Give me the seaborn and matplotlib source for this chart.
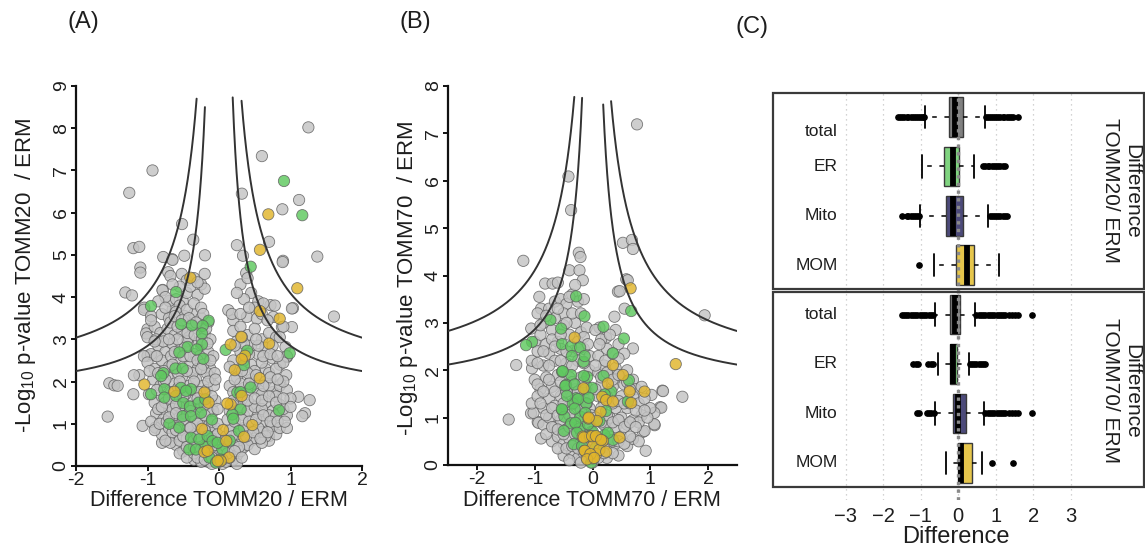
import numpy as np
import pandas as pd
import matplotlib
matplotlib.use("Agg")
import matplotlib.pyplot as plt
from matplotlib.patches import Rectangle
import seaborn as sns

# ---------------- data: panel A (TOMM20 / ERM) ----------------
a_other = [
    (1.25, 8.02), (0.60, 7.34), (-0.93, 7.0), (-1.255, 6.47), (0.32, 6.45), (1.12, 6.30), (0.886, 6.08),
    (-0.517, 5.73), (-0.36, 5.36), (0.25, 5.23), (0.70, 5.31), (-1.198, 5.16), (-1.115, 5.19),
    (-0.485, 4.98), (-0.196, 4.99), (-0.657, 4.90), (-1.10, 4.70), (-1.10, 4.58), (0.336, 4.98),
    (0.895, 4.86), (1.375, 4.96), (0.38, 4.57), (1.035, 3.74), (1.608, 3.54), (0.72, 3.81), (0.94, 2.15),
    (0.86, 1.94), (1.109, 1.64), (1.268, 1.56), (1.203, 1.25), (1.165, 1.18), (0.746, 0.91), (0.70, 0.71),
    (-1.31, 4.11), (-1.217, 4.04), (-0.788, 4.17), (-1.044, 3.75), (-0.648, 3.71), (-0.695, 3.91),
    (-0.508, 3.91), (-1.0, 3.24), (-1.02, 3.14), (-1.0, 2.61), (-0.88, 2.61), (-1.114, 2.15), (-1.19, 2.15),
    (-1.534, 1.96), (-1.464, 1.91), (-1.417, 1.90), (-1.198, 1.70), (-1.557, 1.17), (-1.068, 0.95),
    (-0.89, 0.91), (-0.797, 0.55), (0.89, 4.83), (1.02, 3.73), (0.88, 3.29), (0.93, 2.82), (0.95, 2.58),
    (1.02, 3.29), (-0.78, 4.95), (-0.65, 4.88), (-0.71, 4.59), (-0.79, 4.16),
    (-0.52, 4.55), (-0.45, 4.4), (-0.35, 4.45), (-0.25, 4.30), (-0.2, 4.55), (-0.68, 4.5),
    (-0.75, 4.0), (-0.6, 3.95), (-0.45, 4.1), (-0.3, 4.05), (-0.2, 4.2), (-0.85, 3.9), (-0.55, 3.8),
    (-1.05, 3.7), (-0.95, 3.55), (-0.8, 3.6), (-0.7, 3.5), (-0.6, 3.65), (-0.48, 3.55), (-0.35, 3.6),
    (-0.25, 3.5), (-0.15, 3.4), (-1.0, 3.05), (-0.9, 3.3), (-0.82, 3.15), (-0.72, 3.25), (-0.62, 3.1),
    (-0.52, 3.2), (-0.42, 3.05), (-0.3, 3.25), (-0.2, 3.1), (-0.12, 3.0), (-0.95, 2.65), (-0.85, 2.85),
    (-0.75, 2.7), (-0.65, 2.9), (-0.55, 2.75), (-0.45, 2.95), (-0.35, 2.65), (-0.25, 2.85), (-0.15, 2.7),
    (-1.05, 2.6), (-1.0, 2.45), (-0.9, 2.3), (-0.8, 2.5), (-0.7, 2.35), (-0.6, 2.55), (-0.5, 2.3),
    (-0.4, 2.45), (-0.3, 2.3), (-0.2, 2.5), (-0.12, 2.3), (-0.92, 2.05), (-0.82, 1.9), (-0.72, 2.1),
    (-0.62, 1.95), (-0.52, 2.1), (-0.42, 1.9), (-0.32, 2.05), (-0.22, 1.9), (-0.12, 2.1), (-0.9, 1.5),
    (-0.8, 1.65), (-0.7, 1.45), (-0.6, 1.6), (-0.5, 1.5), (-0.4, 1.65), (-0.3, 1.45), (-0.2, 1.6),
    (-0.1, 1.45), (-0.98, 1.7), (-0.88, 1.25), (-0.78, 1.1), (-0.68, 1.3), (-0.58, 1.15), (-0.48, 1.3),
    (-0.38, 1.05), (-0.28, 1.25), (-0.18, 1.1), (-0.08, 1.3), (-0.95, 1.05), (-0.8, 0.75), (-0.7, 0.9),
    (-0.6, 0.7), (-0.5, 0.85), (-0.4, 0.75), (-0.3, 0.9), (-0.2, 0.7), (-0.1, 0.85), (-0.9, 0.85),
    (-0.6, 0.5), (-0.5, 0.35), (-0.4, 0.55), (-0.3, 0.4), (-0.2, 0.5), (-0.1, 0.35), (-0.68, 0.55),
    (-0.35, 0.15), (-0.25, 0.25), (-0.15, 0.1), (-0.05, 0.2), (-0.1, 0.05), (0.05, 0.05),
    (-0.95, 3.45), (-0.88, 3.0), (-0.78, 2.95), (-0.68, 3.4), (-0.58, 3.3), (-0.48, 2.8), (-0.38, 3.35),
    (-0.28, 2.95), (-0.18, 3.25), (-0.75, 3.75), (-0.45, 3.7), (-0.35, 3.85), (-0.25, 3.75), (-0.55, 4.25),
    (-0.4, 4.25), (-0.3, 4.35), (-0.65, 4.3), (-0.97, 2.25), (-0.87, 2.6), (-0.77, 2.25), (-0.67, 2.6),
    (-0.57, 2.2), (-0.47, 2.6), (-0.37, 2.2), (-0.27, 2.6), (-0.17, 2.2), (-0.08, 2.6), (-0.87, 1.8),
    (-0.77, 2.0), (-0.67, 1.75), (-0.57, 1.85), (-0.47, 1.7), (-0.37, 1.8), (-0.27, 1.75), (-0.17, 1.8),
    (-0.07, 1.9), (-0.85, 1.35), (-0.75, 1.5), (-0.65, 1.35), (-0.55, 1.4), (-0.45, 1.2), (-0.35, 1.35),
    (-0.25, 1.4), (-0.15, 1.3), (-0.05, 1.55), (-0.83, 1.0), (-0.73, 1.05), (-0.63, 0.95), (-0.53, 1.0),
    (-0.43, 0.95), (-0.33, 1.1), (-0.23, 0.95), (-0.13, 1.0), (-0.05, 0.9), (-0.75, 0.6), (-0.65, 0.8),
    (-0.55, 0.6), (-0.45, 0.65), (-0.35, 0.6), (-0.25, 0.55), (-0.15, 0.6), (-0.05, 0.7), (-0.55, 0.3),
    (-0.45, 0.2), (-0.35, 0.3), (-0.25, 0.1), (-0.15, 0.3), (-0.05, 0.4), (0.0, 0.25),
    (-0.62, 3.55), (-0.52, 3.45), (-0.42, 3.5), (-0.32, 3.4), (-0.22, 3.6), (-0.58, 3.0), (-0.44, 3.15),
    (-0.34, 3.1), (-0.24, 3.0), (-0.16, 2.9), (-0.9, 2.95), (-0.7, 3.0), (-0.62, 2.7), (-0.5, 2.6),
    (-0.4, 2.6), (-0.3, 2.5), (-0.22, 2.4), (-0.12, 2.5), (-0.06, 2.2), (-0.85, 2.2), (-0.75, 2.05),
    (-0.65, 2.4), (-0.55, 2.0), (-0.45, 2.25), (-0.35, 2.0), (-0.25, 2.3), (-0.15, 2.0), (-0.05, 2.05),
    (-0.8, 1.4), (-0.7, 1.6), (-0.6, 1.45), (-0.5, 1.65), (-0.4, 1.4), (-0.3, 1.6), (-0.2, 1.45),
    (-0.1, 1.65), (-0.02, 1.35), (-0.7, 1.15), (-0.6, 1.25), (-0.5, 1.1), (-0.4, 1.3), (-0.3, 1.0),
    (-0.2, 1.2), (-0.1, 1.05), (-0.02, 1.0), (-0.6, 0.85), (-0.5, 0.7), (-0.4, 0.9), (-0.3, 0.7),
    (-0.2, 0.85), (-0.1, 0.65), (-0.02, 0.75), (-0.45, 0.45), (-0.35, 0.45), (-0.25, 0.4), (-0.15, 0.45),
    (-0.05, 0.5), (-0.3, 0.2), (-0.2, 0.15), (-0.1, 0.2), (0.0, 0.1),
    (0.3, 4.3), (0.4, 4.45), (0.45, 4.1), (0.35, 3.95), (0.55, 3.9), (0.5, 3.75), (0.25, 4.1), (0.62, 3.85),
    (0.78, 3.8), (0.13, 3.69), (0.2, 3.45), (0.39, 3.53), (0.53, 3.49), (0.76, 3.53), (0.2, 3.2), (0.3, 3.3),
    (0.4, 3.1), (0.5, 3.25), (0.6, 3.0), (0.7, 3.15), (0.8, 3.05), (0.45, 2.85), (0.65, 2.8), (0.9, 3.3),
    (0.2, 2.5), (0.3, 2.7), (0.45, 2.4), (0.55, 2.65), (0.65, 2.3), (0.75, 2.55), (0.85, 2.4), (0.95, 2.6),
    (0.5, 2.25), (0.25, 2.25), (0.15, 1.9), (0.25, 2.1), (0.35, 1.85), (0.45, 2.05), (0.55, 1.8), (0.65, 2.0),
    (0.75, 1.75), (0.85, 1.9), (0.95, 1.8), (1.0, 1.6), (0.15, 1.3), (0.25, 1.5), (0.35, 1.2), (0.45, 1.45),
    (0.55, 1.25), (0.65, 1.5), (0.75, 1.3), (0.85, 1.45), (0.95, 1.2), (0.6, 1.05), (0.1, 0.7), (0.2, 0.9),
    (0.3, 0.6), (0.4, 0.85), (0.5, 0.65), (0.6, 0.8), (0.7, 0.6), (0.8, 0.75), (0.75, 0.95), (0.05, 0.3),
    (0.15, 0.4), (0.25, 0.25), (0.35, 0.45), (0.1, 0.1), (0.2, 0.15), (0.18, 3.6), (0.3, 3.6), (0.42, 3.75),
    (0.6, 3.6), (0.68, 3.45), (0.25, 2.95), (0.35, 2.9), (0.55, 2.85), (0.75, 2.85), (0.85, 3.05),
    (0.15, 2.35), (0.35, 2.5), (0.4, 2.2), (0.6, 2.45), (0.7, 2.2), (0.8, 2.3), (0.9, 2.45), (0.2, 1.75),
    (0.3, 1.95), (0.4, 1.7), (0.5, 1.95), (0.6, 1.7), (0.7, 1.9), (0.8, 1.65), (0.9, 2.0), (0.2, 1.25),
    (0.3, 1.4), (0.4, 1.3), (0.5, 1.4), (0.6, 1.35), (0.7, 1.2), (0.8, 1.2), (0.9, 1.35), (1.0, 1.4),
    (0.15, 0.85), (0.25, 0.75), (0.35, 0.9), (0.45, 0.6), (0.55, 0.9), (0.65, 0.7), (0.85, 0.9), (0.95, 0.9),
    (0.1, 0.45), (0.2, 0.5), (0.3, 0.35), (0.4, 0.5), (0.5, 0.4), (0.6, 0.55), (0.25, 0.05), (0.15, 0.2),
    (0.22, 2.85), (0.32, 3.05), (0.42, 2.65), (0.52, 3.0), (0.62, 2.6), (0.72, 2.65), (0.82, 2.6),
    (0.22, 2.05), (0.32, 2.25), (0.42, 1.95), (0.52, 2.15), (0.62, 1.9), (0.72, 2.1), (0.82, 2.05),
    (0.2, 1.55), (0.3, 1.65), (0.4, 1.55), (0.5, 1.6), (0.6, 1.55), (0.7, 1.65), (0.8, 1.5), (0.9, 1.6),
    (0.12, 1.1), (0.22, 1.05), (0.32, 1.1), (0.42, 1.05), (0.52, 1.1), (0.62, 1.2), (0.72, 1.05),
    (0.82, 1.05), (0.92, 1.05), (0.08, 0.6), (0.18, 0.7), (0.28, 0.45), (0.38, 0.7), (0.48, 0.8),
    (0.58, 0.65), (0.68, 0.8), (0.12, 0.3), (0.22, 0.35), (0.32, 0.2), (0.05, 0.15),
]
a_er = [
    (0.909, 6.75), (1.165, 5.94), (0.443, 4.72), (0.989, 2.67), (0.093, 2.75), (0.395, 2.73), (0.35, 2.39),
    (0.443, 1.86), (0.256, 1.74), (0.303, 1.34), (0.186, 1.22), (0.839, 1.32), (0.28, 0.83), (0.046, 0.40),
    (0.2, 1.12), (0.15, 0.6), (0.30, 1.75), (-0.2, 0.45), (0.02, 0.15),
    (-0.60, 4.12), (-0.951, 3.79), (-0.531, 3.36), (-0.378, 3.33), (-0.145, 3.44), (-0.228, 3.32),
    (-0.238, 3.14), (-0.238, 2.88), (-0.438, 2.82), (-0.312, 2.76), (-0.555, 2.69), (-0.219, 2.54),
    (-0.779, 2.20), (-0.61, 2.31), (-0.508, 2.31), (-0.81, 2.13), (-0.951, 1.70), (-0.765, 1.82),
    (-0.531, 1.85), (-0.392, 1.82), (-0.765, 1.62), (-0.60, 1.66), (-0.46, 1.78), (-0.499, 1.49),
    (-0.406, 1.41), (-0.284, 1.50), (-0.191, 1.58), (-0.695, 1.0), (-0.555, 0.91), (-0.508, 1.18),
    (-0.392, 1.18), (-0.252, 1.26), (-0.098, 1.10), (-0.392, 0.67), (-0.275, 0.63), (-0.159, 0.71),
    (-0.089, 0.59), (-0.019, 0.55), (-0.415, 0.39), (-0.322, 0.39), (-0.135, 0.20), (-0.042, 0.08),
]
a_mom = [
    (0.69, 5.96), (0.573, 5.12), (1.095, 4.21), (0.849, 3.49), (0.573, 3.67), (0.70, 2.90), (0.312, 3.06),
    (0.163, 2.88), (0.364, 2.61), (0.317, 2.53), (0.22, 2.27), (0.569, 2.08), (0.317, 1.66), (0.163, 1.46),
    (0.116, 1.48), (0.466, 0.97), (0.35, 0.69), (0.056, 0.85), (0.102, 0.59), (0.14, 0.20), (0.024, 0.12),
    (-0.401, 4.46), (-1.044, 1.93), (-0.625, 1.76), (-0.205, 1.74), (-0.145, 1.50), (-0.238, 0.88),
    (-0.205, 0.33), (-0.159, 0.36), (-0.019, 0.12),
]

# ---------------- data: panel B (TOMM70 / ERM) ----------------
b_other = [
    (0.77, 7.19), (-0.416, 6.09), (-0.37, 5.38), (0.526, 4.69), (0.682, 4.75), (0.70, 4.56), (-1.197, 4.31),
    (-0.237, 4.48), (-0.208, 4.39), (-0.40, 4.11), (-0.225, 4.11), (-0.168, 3.90), (-0.82, 3.83),
    (-0.69, 3.83), (0.584, 3.92), (0.44, 3.66), (-0.92, 3.55), (1.94, 3.16), (0.555, 3.30), (0.38, 3.13),
    (-1.06, 2.88), (-0.89, 3.30), (0.40, 2.85), (0.70, 2.46), (-1.32, 2.11), (-1.046, 2.04), (1.21, 1.57),
    (1.555, 1.44), (1.02, 1.48), (1.17, 1.22), (-1.064, 1.09), (-0.948, 0.91), (-1.45, 0.96), (1.075, 0.84),
    (0.873, 0.70), (-0.89, 0.56), (0.92, 0.30), (-1.02, 1.10), (-0.935, 0.89), (0.47, 3.67), (0.61, 3.9),
    (1.22, 1.56), (1.19, 1.21), (1.07, 1.10), (0.90, 0.72), (1.07, 0.86), (0.12, 2.90), (0.235, 2.69),
    (-0.95, 3.2), (-0.85, 3.0), (-0.75, 3.3), (-0.65, 3.45), (-0.55, 3.5), (-0.45, 3.4), (-0.35, 3.6),
    (-0.25, 3.45), (-0.15, 3.5), (-0.6, 3.85), (-0.3, 3.8), (-0.5, 3.2), (-1.0, 2.6), (-0.9, 2.75),
    (-0.8, 2.55), (-0.7, 2.85), (-0.6, 2.6), (-0.5, 2.95), (-0.4, 2.75), (-0.3, 3.0), (-0.2, 2.8),
    (-0.1, 2.9), (-0.65, 3.1), (-0.35, 3.2), (-1.05, 2.2), (-0.95, 2.4), (-0.85, 2.1), (-0.75, 2.35),
    (-0.65, 2.2), (-0.55, 2.45), (-0.45, 2.15), (-0.35, 2.4), (-0.25, 2.2), (-0.15, 2.45), (-0.05, 2.3),
    (-1.0, 1.8), (-0.9, 1.6), (-0.8, 1.85), (-0.7, 1.65), (-0.6, 1.9), (-0.5, 1.6), (-0.4, 1.85),
    (-0.3, 1.6), (-0.2, 1.85), (-0.1, 1.65), (-0.05, 2.0), (-1.05, 1.3), (-0.95, 1.45), (-0.85, 1.2),
    (-0.75, 1.4), (-0.65, 1.25), (-0.55, 1.45), (-0.45, 1.2), (-0.35, 1.45), (-0.25, 1.25), (-0.15, 1.4),
    (-0.05, 1.2), (-0.85, 0.85), (-0.75, 1.0), (-0.65, 0.8), (-0.55, 0.95), (-0.45, 0.75), (-0.35, 0.95),
    (-0.25, 0.8), (-0.15, 0.95), (-0.05, 0.8), (-0.7, 0.5), (-0.6, 0.6), (-0.5, 0.45), (-0.4, 0.55),
    (-0.3, 0.45), (-0.2, 0.5), (-0.1, 0.45), (-0.5, 0.2), (-0.35, 0.25), (-0.25, 0.15), (-0.15, 0.25),
    (-0.05, 0.1),
    (-0.9, 2.95), (-0.8, 3.15), (-0.7, 2.65), (-0.6, 3.3), (-0.45, 3.0), (-0.4, 3.55), (-0.2, 3.2),
    (-0.25, 2.6), (-0.15, 2.7), (-0.55, 2.75), (-0.95, 2.15), (-0.85, 2.4), (-0.75, 2.1), (-0.65, 2.5),
    (-0.55, 2.2), (-0.45, 2.4), (-0.35, 2.1), (-0.25, 2.45), (-0.15, 2.15), (-0.08, 2.55), (-0.95, 1.7),
    (-0.85, 1.55), (-0.75, 1.8), (-0.65, 1.55), (-0.55, 1.75), (-0.45, 1.55), (-0.35, 1.75), (-0.25, 1.55),
    (-0.15, 1.75), (-0.05, 1.5), (-0.9, 1.3), (-0.8, 1.05), (-0.7, 1.2), (-0.6, 1.05), (-0.5, 1.3),
    (-0.4, 1.05), (-0.3, 1.3), (-0.2, 1.15), (-0.1, 1.3), (-0.02, 1.05), (-0.8, 0.65), (-0.7, 0.8),
    (-0.6, 0.75), (-0.5, 0.65), (-0.4, 0.8), (-0.3, 0.65), (-0.2, 0.7), (-0.1, 0.6), (-0.02, 0.7),
    (-0.6, 0.35), (-0.45, 0.35), (-0.35, 0.4), (-0.25, 0.35), (-0.15, 0.4), (-0.05, 0.3), (-0.4, 0.1),
    (-0.2, 0.05), (-0.1, 0.15),
    (0.05, 2.85), (0.15, 2.65), (0.3, 2.75), (0.45, 2.55), (0.25, 2.45), (0.55, 2.35),
    (0.1, 2.3), (0.1, 1.95), (0.2, 2.1), (0.3, 1.9), (0.4, 2.05), (0.5, 1.85), (0.6, 2.0), (0.7, 1.8),
    (0.15, 1.7), (0.35, 1.65), (0.55, 1.7), (0.75, 1.6), (0.85, 1.65), (0.1, 1.45), (0.2, 1.3), (0.3, 1.5),
    (0.4, 1.2), (0.5, 1.45), (0.6, 1.2), (0.7, 1.45), (0.8, 1.3), (0.9, 1.4), (1.0, 1.2), (0.85, 1.05),
    (0.1, 0.95), (0.2, 0.85), (0.3, 1.0), (0.4, 0.8), (0.5, 1.0), (0.6, 0.85), (0.7, 0.95), (0.8, 0.9),
    (0.95, 1.0), (0.1, 0.55), (0.2, 0.4), (0.3, 0.6), (0.4, 0.45), (0.5, 0.6), (0.6, 0.4), (0.7, 0.55),
    (0.8, 0.5), (0.45, 0.2), (0.25, 0.15), (0.1, 0.15), (0.0, 0.05),
    (0.12, 2.55), (0.22, 2.2), (0.35, 2.35), (0.45, 2.25), (0.05, 2.1), (0.15, 1.85), (0.25, 1.95),
    (0.35, 1.8), (0.45, 1.9), (0.6, 1.75), (0.65, 1.6), (0.05, 1.6), (0.15, 1.2), (0.25, 1.45), (0.35, 1.3),
    (0.45, 1.35), (0.55, 1.3), (0.65, 1.3), (0.75, 1.15), (0.9, 1.15), (0.05, 1.0), (0.15, 0.9),
    (0.25, 1.05), (0.35, 0.9), (0.45, 0.95), (0.55, 0.8), (0.65, 0.9), (0.75, 0.8), (0.05, 0.6),
    (0.15, 0.5), (0.25, 0.55), (0.35, 0.5), (0.45, 0.5), (0.55, 0.45), (0.65, 0.6), (0.35, 0.25),
    (0.2, 0.25), (0.05, 0.35),
]
b_er = [
    (0.67, 3.25), (-0.283, 3.56), (-0.139, 3.14), (-0.728, 3.06), (-0.543, 2.88), (0.19, 2.92), (0.543, 2.67),
    (-1.046, 2.60), (-1.15, 2.53), (-0.526, 2.55), (-0.37, 2.50), (-0.214, 2.48), (0.353, 2.36),
    (-0.358, 2.30), (-0.156, 2.18), (-0.135, 2.30), (-0.526, 1.97), (-0.37, 1.90), (-0.092, 1.86),
    (0.63, 1.79), (-0.457, 1.69), (0.324, 1.55), (0.613, 1.34), (-0.283, 1.41), (-0.11, 1.30),
    (-0.341, 1.30), (-0.526, 1.16), (-0.486, 1.02), (-0.37, 0.88), (-0.208, 1.02), (-0.497, 0.72),
    (-0.225, 0.77), (0.006, 0.70), (0.208, 0.63), (0.353, 0.53), (-0.023, 0.05), (-0.517, 1.98),
    (-0.15, 1.88), (-0.47, 1.67), (-0.309, 1.70), (-0.123, 1.60), (-0.008, 1.63), (-0.443, 1.46),
    (-0.251, 1.39), (-0.065, 1.42), (-0.53, 1.18), (-0.309, 1.19), (-0.123, 1.10), (-0.297, 0.89),
    (-0.077, 0.86), (-0.268, 0.68), (-0.065, 0.61), (-0.326, 0.44), (-0.181, 0.40), (0.19, 1.88),
    (0.21, 1.49), (0.235, 1.14), (0.12, 0.93), (0.265, 0.68), (0.12, 0.54), (0.06, 0.37),
]
b_mom = [
    (0.659, 3.73), (-0.31, 2.69), (1.44, 2.13), (0.353, 2.11), (0.526, 1.90), (0.266, 1.72), (-0.156, 1.62),
    (0.642, 1.55), (0.90, 1.55), (0.168, 1.44), (0.237, 1.37), (0.353, 1.34), (0.67, 1.31), (0.139, 1.12),
    (-0.069, 0.98), (0.075, 0.93), (-0.168, 0.60), (-0.04, 0.60), (0.092, 0.56), (0.179, 0.51),
    (0.468, 0.58), (-0.139, 0.30), (0.006, 0.40), (0.064, 0.23), (0.12, 0.32), (0.237, 0.28), (0.006, 0.14),
    (-0.065, 1.00), (-0.15, 0.58), (-0.008, 0.61), (-0.135, 0.30), (-0.036, 0.23), (-0.094, 0.12),
    (0.06, 0.61), (0.15, 0.53), (0.03, 0.15),
]

# significance curves: y = a + c / (|x| + b), cut at the top heights (left, right)
a_curves = [(1.99, 2.10, 0.0, 8.70, 8.65), (1.67, 1.14, -0.03, 8.50, 8.73)]
b_curves = [(1.89, 2.44, 0.10, 7.77, 7.68), (1.61, 1.289, 0.03, 7.75, 7.61)]

a_xticks = [-2, -1, 0, 1, 2]
a_xticklabels = ["-2", "-1", "0", "1", "2"]
a_yticks = [0, 1, 2, 3, 4, 5, 6, 7, 8, 9]
b_xticks = [-2, -1, 0, 1, 2]
b_xticklabels = ["-2", "-1", "0", "1", "2"]
b_yticks = [0, 1, 2, 3, 4, 5, 6, 7, 8]

# ---------------- data: panel C (box summaries) ----------------
c_groups = ["total", "ER", "Mito", "MOM"]
c_colors = ["#808080", "#80d480", "#4c4a7a", "#e6c64c"]
t20_q1 = [-0.25, -0.38, -0.33, -0.06]
t20_med = [-0.10, -0.15, -0.15, 0.22]
t20_q3 = [0.13, 0.03, 0.13, 0.42]
t20_lo = [-0.89, -0.98, -1.02, -0.65]
t20_hi = [0.71, 0.42, 0.80, 1.09]
t20_fliers = [
    [-1.60, -1.55, -1.49, -1.44, -1.38, -1.33, -1.27, -1.22, -1.16, -1.11, -1.05, -1.0, -0.95, -0.91,
     0.74, 0.79, 0.85, 0.9, 0.96, 1.01, 1.07, 1.12, 1.18, 1.23, 1.29, 1.34, 1.40, 1.46, 1.60],
    [0.67, 0.72, 0.78, 0.83, 0.9, 0.95, 1.01, 1.07, 1.12, 1.18, 1.24],
    [-1.51, -1.38, -1.33, -1.27, -1.21, -1.15, -1.09, -1.04, 0.84, 0.89, 0.95, 1.0, 1.06, 1.12, 1.18, 1.24, 1.30],
    [-1.04],
]
t70_q1 = [-0.22, -0.22, -0.13, 0.0]
t70_med = [-0.09, -0.14, 0.0, 0.07]
t70_q3 = [0.04, -0.04, 0.20, 0.36]
t70_lo = [-0.62, -0.53, -0.62, -0.33]
t70_hi = [0.44, 0.28, 0.68, 0.62]
t70_fliers = [
    [-1.51, -1.45, -1.39, -1.33, -1.27, -1.21, -1.15, -1.09, -1.03, -0.97, -0.91, -0.85, -0.79, -0.73, -0.67,
     0.48, 0.54, 0.6, 0.66, 0.72, 0.78, 0.84, 0.9, 0.96, 1.02, 1.08, 1.14, 1.2, 1.24, 1.35, 1.42, 1.5, 1.58, 1.96],
    [-1.2, -1.13, -1.07, -0.8, -0.73, -0.67, 0.3, 0.36, 0.42, 0.48, 0.54, 0.6, 0.66, 0.71],
    [-1.11, -1.05, -0.84, -0.78, -0.72, -0.66, 0.72, 0.78, 0.84, 0.9, 0.96, 1.02, 1.08, 1.14, 1.2, 1.24,
     1.35, 1.42, 1.5, 1.58, 1.96],
    [0.89, 1.45],
]
c_xticks = [-3, -2, -1, 0, 1, 2, 3]
c_strips = ["Difference\nTOMM20/ ERM", "Difference\nTOMM70/ ERM"]

# ---------------- style ----------------
sns.set_theme(style="ticks")
plt.rcParams["font.family"] = ["Liberation Sans", "DejaVu Sans"]
plt.rcParams["mathtext.fontset"] = "custom"
plt.rcParams["mathtext.rm"] = "Liberation Sans"
plt.rcParams["mathtext.it"] = "Liberation Sans:italic"
plt.rcParams["mathtext.bf"] = "Liberation Sans:bold"
TXT = "#1e1e1e"

W, H = 1145, 549
fig = plt.figure(figsize=(W / 100, H / 100), dpi=100)


def px_axes(l, t, r, b):
    return fig.add_axes([l / W, 1 - b / H, (r - l) / W, (b - t) / H])


palette = {"other": "#c4c4c4", "ER": "#5ec85e", "MOM": "#e1b52b"}


def volcano(ax, other, er, mom, xlim, ylim, curves, xticks, xticklabels, yticks):
    frames = []
    for name, pts in (("other", other), ("ER", er), ("MOM", mom)):
        d = pd.DataFrame(pts, columns=["diff", "logp"])
        d["group"] = name
        frames.append(d)
    df = pd.concat(frames, ignore_index=True)
    sns.scatterplot(data=df, x="diff", y="logp", hue="group", palette=palette,
                    s=66, alpha=0.82, edgecolor="#5e5e5e", linewidth=0.6,
                    legend=False, ax=ax, clip_on=False, zorder=3)
    for (a, c, b, top_l, top_r) in curves:
        for sign, top in ((-1, top_l), (1, top_r)):
            x0 = c / (top - a) - b
            xs = np.linspace(x0, abs(xlim[0]), 300)
            ax.plot(sign * xs, a + c / (xs + b), color="#333333", lw=1.4, zorder=4)
    ax.set_xlim(*xlim)
    ax.set_ylim(*ylim)
    ax.set_xticks(xticks)
    ax.set_xticklabels(xticklabels)
    ax.set_yticks(yticks)
    ax.set_yticklabels([str(v) for v in yticks], rotation=90, va="center")
    for s in ("top", "right"):
        ax.spines[s].set_visible(False)
    for s in ("left", "bottom"):
        ax.spines[s].set_linewidth(1.6)
        ax.spines[s].set_color("#111111")
    ax.tick_params(direction="out", length=3.5, width=1.4, labelsize=14, colors="#111111",
                   labelcolor=TXT, pad=1)
    ax.set_facecolor("none")


# Panel A
axA = px_axes(76, 86, 362, 466)
volcano(axA, a_other, a_er, a_mom, (-2, 2), (0, 9), a_curves, a_xticks, a_xticklabels, a_yticks)
axA.set_xlabel("Difference TOMM20 / ERM", fontsize=15.5, color=TXT, va="center")
axA.xaxis.set_label_coords(0.5, (466 - 500) / 380)
axA.set_ylabel("-Log$_{10}$ p-value TOMM20  / ERM", fontsize=16, color=TXT, va="center", ha="center")
axA.yaxis.set_label_coords((26 - 76) / 286, (466 - 275) / 380)

# Panel B
axB = px_axes(448, 86, 737, 465)
volcano(axB, b_other, b_er, b_mom, (-2.5, 2.5), (0, 8), b_curves, b_xticks, b_xticklabels, b_yticks)
axB.set_xlabel("Difference TOMM70 / ERM", fontsize=15.5, color=TXT, va="center")
axB.xaxis.set_label_coords((592 - 448) / 289, (465 - 500) / 379)
axB.set_ylabel("-Log$_{10}$ p-value TOMM70  / ERM", fontsize=16, color=TXT, va="center", ha="center")
axB.yaxis.set_label_coords((407 - 448) / 289, (465 - 278) / 379)

# Panel C
axC = px_axes(773, 93, 1144, 500)
x_left = (773 - 958.3) / 37.5
x_right = (1144 - 958.3) / 37.5
row_px = 49.4
y_top = (93 - 117) / row_px
y_bot = (500 - 117) / row_px

stats = []
all_q1 = t20_q1 + t70_q1
all_med = t20_med + t70_med
all_q3 = t20_q3 + t70_q3
all_lo = t20_lo + t70_lo
all_hi = t20_hi + t70_hi
all_fl = t20_fliers + t70_fliers
for i in range(8):
    stats.append(dict(med=all_med[i], q1=all_q1[i], q3=all_q3[i], whislo=all_lo[i],
                      whishi=all_hi[i], fliers=np.array(all_fl[i])))
bp = axC.bxp(stats, positions=list(range(8)), widths=0.8, orientation="horizontal",
             patch_artist=True, showfliers=True, capwidths=0.45,
             boxprops=dict(edgecolor="#3a3a3a", linewidth=1.0),
             medianprops=dict(color="black", linewidth=4.2, solid_capstyle="butt"),
             whiskerprops=dict(color="black", linewidth=1.1, linestyle=(0, (3, 5))),
             capprops=dict(color="black", linewidth=1.3),
             flierprops=dict(marker="o", markerfacecolor="black", markeredgecolor="black",
                             markersize=3.8, linestyle="none"))
for i, patch in enumerate(bp["boxes"]):
    patch.set_facecolor(c_colors[i % 4])

axC.axvline(0, color="#8a8a8a", linestyle=(0, (1, 1.3)), lw=2.4, zorder=6)
axC.set_xlim(x_left, x_right)
axC.set_ylim(y_bot, y_top)
axC.set_xticks(c_xticks)
axC.set_xticklabels(["\u2212" + str(-v) if v < 0 else str(v) for v in c_xticks])
axC.set_yticks([])
axC.tick_params(axis="x", length=0, pad=5, labelsize=14.5, labelcolor=TXT)
axC.grid(axis="x", color="#c4c4c4", linestyle=(0, (1, 3)), lw=0.9)
axC.set_axisbelow(True)
for s in axC.spines.values():
    s.set_visible(False)
axC.set_facecolor("none")

# frames around each facet
axC.add_patch(Rectangle((x_left, (93 - 117) / row_px), x_right - x_left, (289 - 93) / row_px,
                        fill=False, edgecolor="#3a3a3a", lw=1.6, clip_on=False, zorder=7))
axC.add_patch(Rectangle((x_left, (292 - 117) / row_px), x_right - x_left, (487 - 292) / row_px,
                        fill=False, edgecolor="#3a3a3a", lw=1.6, clip_on=False, zorder=7))

label_offsets = [0.3, 0, 0, 0, 0, 0, 0, 0]
for i in range(8):
    axC.text(-3.22, i + label_offsets[i], c_groups[i % 4], ha="right", va="center",
             fontsize=12.5, color=TXT)
axC.text(4.34, (191 - 117) / row_px, c_strips[0], rotation=270, ha="center", va="center",
         multialignment="center", fontsize=15, color=TXT, linespacing=1.2)
axC.text(4.34, (391 - 117) / row_px, c_strips[1], rotation=270, ha="center", va="center",
         multialignment="center", fontsize=15, color=TXT, linespacing=1.2)
axC.set_xlabel("Difference", fontsize=17, color=TXT, va="center")
axC.xaxis.set_label_coords((956 - 773) / 371, (500 - 537) / 407)

# panel letters
fig.text(83 / W, 1 - 22 / H, "(A)", ha="center", va="center", fontsize=17, color=TXT)
fig.text(415 / W, 1 - 22 / H, "(B)", ha="center", va="center", fontsize=17, color=TXT)
fig.text(752 / W, 1 - 27 / H, "(C)", ha="center", va="center", fontsize=17, color=TXT)

fig.savefig("out.png", dpi=100)
